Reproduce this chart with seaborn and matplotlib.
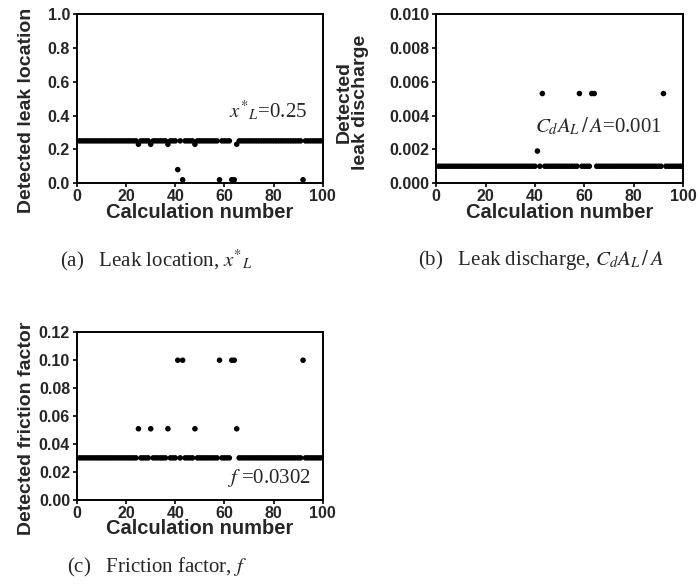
import numpy as np
import pandas as pd
import matplotlib
matplotlib.use("Agg")
import matplotlib.pyplot as plt
import seaborn as sns

# ---------------- data ----------------
calc_numbers = list(range(1, 101))          # calculation number 1..100

# (a) leak location
loc_true = 0.25
loc_outlier_calc = [25, 30, 37, 41, 43, 48, 58, 63, 64, 65, 92]
loc_outlier_vals = [0.23, 0.23, 0.23, 0.08, 0.02, 0.23, 0.02, 0.02, 0.02, 0.23, 0.02]

# (b) leak discharge
dis_true = 0.001
dis_outlier_calc = [41, 43, 58, 63, 64, 92]
dis_outlier_vals = [0.0019, 0.0053, 0.0053, 0.0053, 0.0053, 0.0053]

# (c) friction factor
fri_true = 0.0302
fri_outlier_calc = [25, 30, 37, 41, 43, 48, 58, 63, 64, 65, 92]
fri_outlier_vals = [0.051, 0.051, 0.051, 0.10, 0.10, 0.051, 0.10, 0.10, 0.10, 0.051, 0.10]

a_yticks = [0.0, 0.2, 0.4, 0.6, 0.8, 1.0]
b_yticks = [0.000, 0.002, 0.004, 0.006, 0.008, 0.010]
c_yticks = [0.00, 0.02, 0.04, 0.06, 0.08, 0.10, 0.12]
x_ticks = [0, 20, 40, 60, 80, 100]


def build(true_val, oc, ov):
    vals = {c: true_val for c in calc_numbers}
    for c, v in zip(oc, ov):
        vals[c] = v
    return pd.DataFrame({"calc": calc_numbers, "val": [vals[c] for c in calc_numbers]})


dfa = build(loc_true, loc_outlier_calc, loc_outlier_vals)
dfb = build(dis_true, dis_outlier_calc, dis_outlier_vals)
dfc = build(fri_true, fri_outlier_calc, fri_outlier_vals)

# ---------------- style ----------------
sns.set_theme(style="ticks")
plt.rcParams["font.family"] = ["Liberation Sans", "DejaVu Sans"]
plt.rcParams["mathtext.fontset"] = "stix"

fig = plt.figure(figsize=(7.0, 5.87), dpi=100)
axa = fig.add_axes([0.110, 0.688, 0.351, 0.288])
axb = fig.add_axes([0.623, 0.688, 0.353, 0.288])
axc = fig.add_axes([0.110, 0.148, 0.351, 0.286])

serif = ["Liberation Serif", "DejaVu Serif"]


def style_axis(ax, df, yticks, fmt, ylabel, label_x, label_y, lsize):
    sns.scatterplot(data=df, x="calc", y="val", ax=ax, color="black",
                    s=16, edgecolor="none", legend=False, zorder=3)
    ax.set_xlim(0, 100)
    ax.set_ylim(yticks[0], yticks[-1])
    ax.set_xticks(x_ticks)
    ax.set_yticks(yticks)
    ax.set_yticklabels([fmt.format(t) for t in yticks])
    for s in ax.spines.values():
        s.set_visible(True)
        s.set_linewidth(1.4)
        s.set_color("black")
    ax.tick_params(axis="both", which="major", direction="out", length=3,
                   width=1.2, color="black", labelsize=11.5, pad=2)
    ax.tick_params(axis="x", pad=1)
    for lab in ax.get_xticklabels() + ax.get_yticklabels():
        lab.set_fontweight("bold")
    ax.set_xlabel("Calculation number", fontsize=14.5, fontweight="bold")
    ax.xaxis.set_label_coords(0.5, -0.115)
    ax.set_ylabel(ylabel, fontsize=lsize, fontweight="bold", linespacing=0.95)
    ax.yaxis.set_label_coords(label_x, label_y)
    ax.grid(False)


style_axis(axa, dfa, a_yticks, "{:.1f}", "Detected leak location", -0.17, 0.43, 14)
style_axis(axb, dfb, b_yticks, "{:.3f}", "Detected\nleak discharge", -0.27, 0.48, 14)
style_axis(axc, dfc, c_yticks, "{:.2f}", "Detected friction factor", -0.17, 0.43, 14)

axa.text(62, 0.385, r"$x^{*}{}_{L}$=0.25", fontsize=15, family=serif, va="baseline")
axb.text(40, 0.0030, r"$C_dA_L\,/\,A$=0.001", fontsize=15, family=serif, va="baseline")
axc.text(61, 0.012, r"$f$ =0.0302", fontsize=15, family=serif, va="baseline")

fig.text(0.086, 0.557, r"(a)   Leak location, $x^{*}{}_{L}$", fontsize=15,
         family=serif, va="center", ha="left")
fig.text(0.597, 0.557, r"(b)   Leak discharge, $C_dA_L\,/\,A$", fontsize=15,
         family=serif, va="center", ha="left")
fig.text(0.096, 0.034, r"(c)   Friction factor, $f$", fontsize=15,
         family=serif, va="center", ha="left")

fig.savefig("out.png", dpi=100, facecolor="white")
